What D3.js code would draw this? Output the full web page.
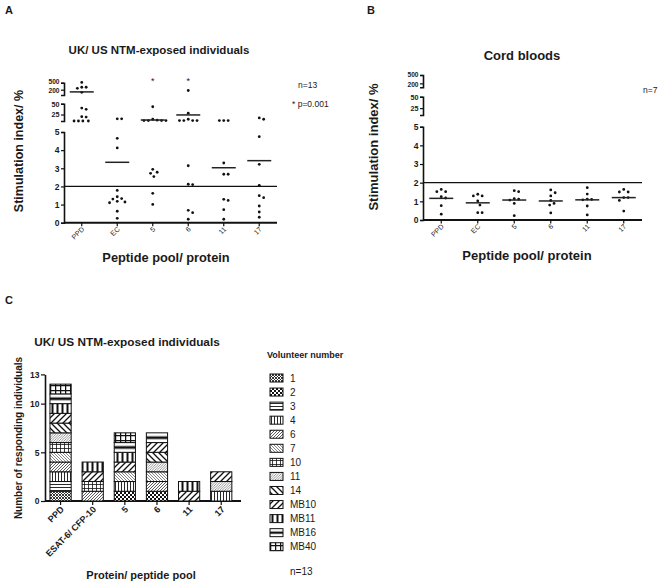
<!DOCTYPE html>
<html><head><meta charset="utf-8">
<script src="https://cdn.jsdelivr.net/npm/d3@7"></script>
<style>body{margin:0;background:#fff}svg{display:block}</style>
</head><body><svg id="c" width="661" height="583"></svg>
<script>
// ---------------- DATA ----------------
const categoriesAB = ["PPD","EC","5","6","11","17"];
const ntmValues = [
  [520,275,275,240,142,40,37,20,19,10,10,10,10],
  [15,15,4.65,4.12,1.78,1.43,1.33,1.3,1.18,1.14,1.1,0.63,0.24],
  [43,14,12,11,11,11,11,2.94,2.78,2.72,2.54,1.62,1.01],
  [180,28,14,11,11,11,11,3.14,2.12,2.1,0.68,0.55,0.19],
  [11,11,11,3.29,2.67,2.67,1.29,1.23,0.72,0.19],
  [17,14,4.74,3.22,2.06,1.49,1.38,0.92,0.59,0.3]
];
const ntmCentre = [150,3.33,12.3,24,3.03,3.42];
const cordValues = [
  [1.64,1.52,1.52,1.25,1.18,0.77,0.31],
  [1.38,1.29,1.29,1.02,0.8,0.39,0.39],
  [1.57,1.52,1.14,1.12,1.07,0.89,0.23],
  [1.61,1.46,1.29,1.05,0.89,0.8,0.38],
  [1.73,1.39,1.12,1.1,1.08,0.75,0.27],
  [1.64,1.5,1.5,1.2,1.2,1.05,0.48]
];
const cordCentre = [1.16,0.92,1.07,1.02,1.08,1.2];
const threshold = 2;
const sigCategories = ["5","6"];
const lowTicks = [0,1,2,3,4,5];
const midTicks = [25,50];
const highTicks = [200,500];

const categoriesC = ["PPD","ESAT-6/ CFP-10","5","6","11","17"];
const volunteers = ["1","2","3","4","6","7","10","11","14","MB10","MB11","MB16","MB40"];
const responders = [
  ["1","3","4","6","7","10","11","14","MB10","MB11","MB16","MB40"],
  ["6","10","MB10","MB11"],
  ["2","4","7","MB10","MB11","MB16","MB40"],
  ["2","6","7","11","14","MB10","MB16"],
  ["MB10","MB11"],
  ["4","11","MB10"]
];
const countTicks = [0,5,10,13];

// ---------------- DRAW ----------------
const F = '"Liberation Sans", Arial, Helvetica, sans-serif';
const svg = d3.select("#c");
const defs = svg.append("defs");

function text(x,y,s,size,weight,anchor,rot){
  const t = svg.append("text").attr("x",x).attr("y",y).text(s)
    .style("font-family",F).style("font-size",size+"px").style("font-weight",weight||"normal")
    .attr("text-anchor",anchor||"start").attr("fill","#1a1a1a");
  if(rot) t.attr("transform",`rotate(${rot},${x},${y})`);
  return t;
}

function swarm(ys, r, step){
  const placed=[], offs=new Array(ys.length);
  ys.forEach((y,i)=>{
    for(let k=0;k<60;k++){
      const dx = k===0?0:((k%2)?1:-1)*Math.ceil(k/2)*step;
      if(placed.every(p=>Math.hypot(p.dx-dx,p.y-y)>=r)){offs[i]=dx;placed.push({dx,y});break;}
    }
  });
  return offs;
}

function scatterPanel(p){
  const x = d3.scaleBand().domain(categoriesAB).range(p.xRange);
  const cx = c => x(c)+x.bandwidth()/2;
  const sLow = d3.scaleLinear().domain([0,5]).range(p.low);
  const sMid = d3.scaleLinear().domain([10,50]).range(p.mid);
  const sHigh = d3.scaleLog().domain(p.highDom).range(p.high);
  const yOf = v => v<=5 ? sLow(v) : v<=60 ? sMid(Math.max(v,10)) : sHigh(v);
  const x0 = p.xRange[0];
  [[sLow,lowTicks,8.5],[sMid,midTicks,7.2],[sHigh,highTicks,6.6]].forEach(([s,t,fs],k)=>{
    const g = svg.append("g").attr("transform",`translate(${x0},0)`)
      .call(d3.axisLeft(s).tickValues(t).tickSize(3).tickSizeOuter(3).tickPadding(1.5).tickFormat(d3.format("d")));
    g.select(".domain").attr("stroke","#111").attr("stroke-width",1.6);
    g.selectAll(".tick line").attr("stroke","#111").attr("stroke-width",1.2);
    g.selectAll("text").style("font-family",F).style("font-size",fs+"px").style("font-weight","bold").attr("fill","#1a1a1a");
    if(k===2) g.selectAll("text").attr("dy",(d)=> d===500 ? "0.15em" : "0.4em");
  });
  // x axis
  const yb = sLow(0);
  svg.append("line").attr("x1",x0).attr("x2",p.xRange[1]).attr("y1",yb).attr("y2",yb).attr("stroke","#111").attr("stroke-width",2);
  svg.append("line").attr("x1",x0).attr("x2",p.xRange[1]).attr("y1",sLow(threshold)).attr("y2",sLow(threshold)).attr("stroke","#111").attr("stroke-width",1.3);
  categoriesAB.forEach(c=>{
    svg.append("line").attr("x1",cx(c)).attr("x2",cx(c)).attr("y1",yb).attr("y2",yb+3.5).attr("stroke","#111").attr("stroke-width",1.2);
    text(cx(c)+3,yb+7,c,7,"normal","end",-45);
  });
  // dots
  p.values.forEach((vals,i)=>{
    const c = categoriesAB[i];
    const ys = vals.map(yOf);
    const offs = swarm(ys,4.4,1.1);
    svg.append("g").selectAll("circle").data(vals).join("circle")
      .attr("cx",(d,j)=>cx(c)+offs[j]).attr("cy",d=>yOf(d)).attr("r",1.4).attr("fill","#111");
    const yc = yOf(p.centre[i]);
    svg.append("line").attr("x1",cx(c)-12).attr("x2",cx(c)+12).attr("y1",yc).attr("y2",yc).attr("stroke","#222").attr("stroke-width",1.5);
  });
  if(p.sig) p.sig.forEach(c=> text(cx(c),p.sigY,"*",9,"normal","middle"));
}

// Panel A
text(5,14,"A",11,"bold");
text(159,54,"UK/ US NTM-exposed individuals",11.5,"bold","middle");
scatterPanel({xRange:[64,277],low:[222.7,132],mid:[121,103.7],highDom:[100,500],high:[95,82.7],
  values:ntmValues,centre:ntmCentre,sig:sigCategories,sigY:84});
text(22.5,151,"Stimulation index/ %",12.5,"bold","middle",-90);
text(166,262,"Peptide pool/ protein",12.8,"bold","middle");
text(298,88,"n=13",8.5);
text(292,107,"* p=0.001",8.5);

// Panel B
text(367,14,"B",11,"bold");
text(522,60,"Cord bloods",13,"bold","middle");
scatterPanel({xRange:[423,642],low:[220,126.7],mid:[115,96.7],highDom:[130,500],high:[87.3,75],
  values:cordValues,centre:cordCentre});
text(378,147,"Stimulation index/ %",13,"bold","middle",-90);
text(527,260,"Peptide pool/ protein",13,"bold","middle");
text(643,93,"n=7",8.5);

// Panel C patterns
function pat(id,w,h,draw){
  const p = defs.append("pattern").attr("id",id).attr("patternUnits","userSpaceOnUse").attr("width",w).attr("height",h);
  p.append("rect").attr("width",w).attr("height",h).attr("fill","#fff");
  draw(p);
}
const P = (g,d,sw,col)=>g.append("path").attr("d",d).attr("stroke",col||"#111").attr("stroke-width",sw).attr("fill","none");
pat("v1",3,3,g=>P(g,"M0,0L3,3M3,0L0,3",0.9,"#222"));
pat("v2",4,4,g=>{g.append("rect").attr("width",2).attr("height",2).attr("fill","#111");g.append("rect").attr("x",2).attr("y",2).attr("width",2).attr("height",2).attr("fill","#111");});
pat("v3",4,3,g=>P(g,"M0,1.5H4",0.9));
pat("v4",3,4,g=>P(g,"M1.5,0V4",0.9));
pat("v6",3,3,g=>P(g,"M0,3L3,0M-1,1L1,-1M2,4L4,2",0.8,"#333"));
pat("v7",3,3,g=>P(g,"M0,0L3,3M-1,2L1,4M2,-1L4,1",0.7,"#555"));
pat("v10",4,4,g=>P(g,"M0,0.5H4M0.5,0V4",0.8));
pat("v11",2.5,2.5,g=>P(g,"M0,2.5L2.5,0M-1,1L1,-1M1.5,3.5L3.5,1.5",0.55,"#444"));
pat("v14",6,6,g=>P(g,"M0,0L6,6M-3,3L3,9M3,-3L9,3",1.3));
pat("vMB10",6,6,g=>P(g,"M0,6L6,0M-3,3L3,-3M3,9L9,3",1.3));
pat("vMB11",5,5,g=>g.append("rect").attr("x",1.5).attr("width",2).attr("height",5).attr("fill","#111"));
{
  const p = defs.append("pattern").attr("id","vMB16").attr("patternUnits","objectBoundingBox").attr("patternContentUnits","objectBoundingBox").attr("width",1).attr("height",1);
  p.append("rect").attr("width",1).attr("height",1).attr("fill","#fff");
  p.append("rect").attr("y",0.36).attr("width",1).attr("height",0.28).attr("fill","#111");
}
pat("vMB40",5,5,g=>P(g,"M0,0.6H5M0.6,0V5",1.3));
const pid = v => "url(#v"+v+")";

// Panel C
text(5,304,"C",11,"bold");
text(127,346,"UK/ US NTM-exposed individuals",11.8,"bold","middle");
const xC = d3.scaleBand().domain(categoriesC).range([44.5,237.3]).paddingInner(0.34).paddingOuter(0.17);
const yC = d3.scaleLinear().domain([0,13]).range([501,374.4]);
{
  const g = svg.append("g").attr("transform","translate(45,0)")
    .call(d3.axisLeft(yC).tickValues(countTicks).tickSize(4).tickSizeOuter(0).tickPadding(1.5));
  g.select(".domain").attr("stroke","#111").attr("stroke-width",1.6);
  g.selectAll(".tick line").attr("stroke","#111").attr("stroke-width",1.2);
  g.selectAll("text").style("font-family",F).style("font-size","8.5px").style("font-weight","bold").attr("fill","#1a1a1a");
}
svg.append("line").attr("x1",45).attr("x2",241).attr("y1",501).attr("y2",501).attr("stroke","#111").attr("stroke-width",2);
categoriesC.forEach((c,i)=>{
  const g = svg.append("g");
  g.selectAll("rect").data(responders[i]).join("rect")
    .attr("x",xC(c)).attr("width",xC.bandwidth())
    .attr("y",(d,j)=>yC(j+1)).attr("height",(d,j)=>yC(j)-yC(j+1))
    .attr("fill",d=>pid(d)).attr("stroke","#111").attr("stroke-width",1);
  const cxx = xC(c)+xC.bandwidth()/2;
  svg.append("line").attr("x1",cxx).attr("x2",cxx).attr("y1",501).attr("y2",505).attr("stroke","#111").attr("stroke-width",1.2);
  text(cxx+4,510,c,9,"bold","end",-45);
});
text(22,438,"Number of responding individuals",10,"bold","middle",-90);
text(141,579,"Protein/ peptide pool",11,"bold","middle");

// legend
text(267,358,"Volunteer number",9,"bold");
volunteers.forEach((v,i)=>{
  const yy = 378+i*14.06;
  svg.append("rect").attr("x",270).attr("y",yy-4).attr("width",13).attr("height",8).attr("fill",pid(v)).attr("stroke","#111").attr("stroke-width",1);
  text(290,yy+3.6,v,10);
});
text(290,575,"n=13",10);
</script>
</body></html>
